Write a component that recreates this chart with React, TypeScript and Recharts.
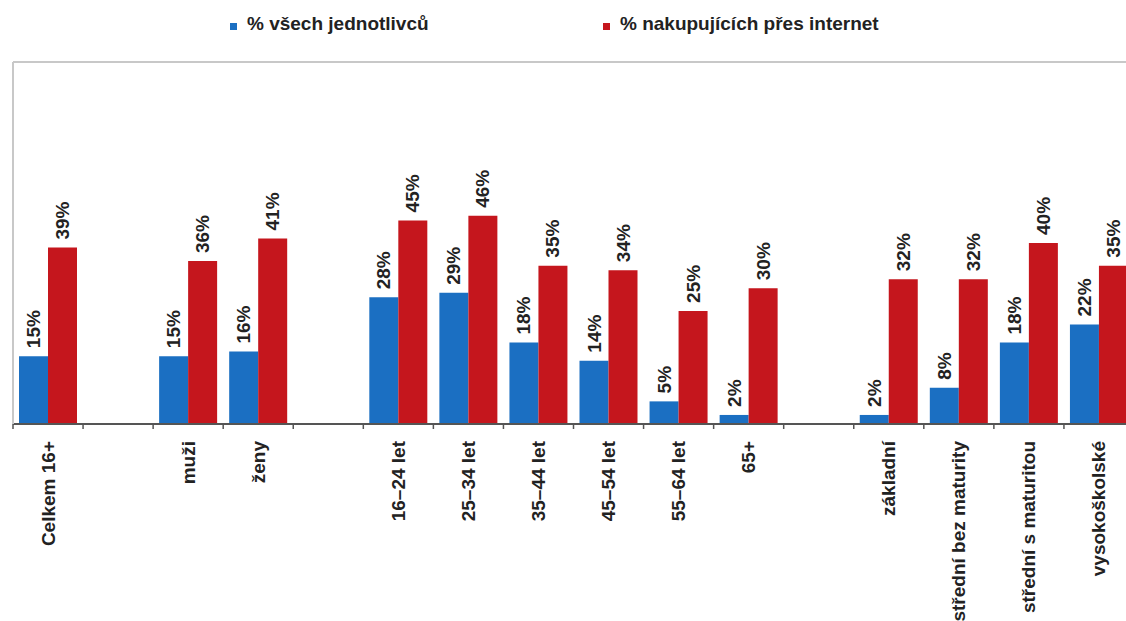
import { BarChart, Bar, XAxis, YAxis, Legend, LabelList, ReferenceLine } from 'recharts';

const categories = [
  'Celkem 16+', '', 'muži', 'ženy', '',
  '16–24 let', '25–34 let', '35–44 let', '45–54 let', '55–64 let', '65+', '',
  'základní', 'střední bez maturity', 'střední s maturitou', 'vysokoškolské',
];
const allIndividuals = [15, null, 15, 16, null, 28, 29, 18, 14, 5, 2, null, 2, 8, 18, 22];
const onlineShoppers = [39, null, 36, 41, null, 45, 46, 35, 34, 25, 30, null, 32, 32, 40, 35];
const seriesNames = ['% všech jednotlivců', '% nakupujících přes internet'];

const FONT = '"Liberation Sans", Arial, sans-serif';
const BLUE = '#1b6fc2';
const RED = '#c5161d';

const data = categories.map((name, i) => ({
  name,
  all: allIndividuals[i],
  shoppers: onlineShoppers[i],
}));

function CategoryTick(props: any) {
  const { x, y, payload } = props;
  const edge = x - (payload.offset ?? 0);
  return (
    <g>
      <line x1={edge} y1={y} x2={edge} y2={y + 5} stroke="#555" strokeWidth={1.5} />
      {payload.value ? (
        <text
          transform={`translate(${x},${y + 17}) rotate(-90)`}
          textAnchor="end"
          dominantBaseline="central"
          fontFamily={FONT}
          fontWeight="bold"
          fontSize={19}
          fill="#222"
        >
          {payload.value}
        </text>
      ) : null}
    </g>
  );
}

function ValueLabel(props: any) {
  const { value } = props;
  if (value == null) return null;
  const x = props.x ?? props.viewBox?.x;
  const y = props.y ?? props.viewBox?.y;
  const width = props.width ?? props.viewBox?.width;
  return (
    <text
      transform={`translate(${x + width / 2},${y - 8}) rotate(-90)`}
      textAnchor="start"
      dominantBaseline="central"
      fontFamily={FONT}
      fontWeight="bold"
      fontSize={19}
      fill="#222"
    >
      {value}%
    </text>
  );
}

function LegendContent(props: any) {
  const lefts = [230, 603];
  const items = [...(props.payload || [])].sort(
    (a: any, b: any) => seriesNames.indexOf(a.value) - seriesNames.indexOf(b.value)
  );
  return (
    <div style={{ position: 'relative', height: 20, fontFamily: FONT, fontWeight: 'bold', fontSize: 19, lineHeight: '20px', color: '#222' }}>
      {items.map((entry: any, i: number) => (
        <div key={entry.value} style={{ position: 'absolute', left: lefts[i], top: 0, display: 'flex', alignItems: 'flex-start', whiteSpace: 'nowrap' }}>
          <span style={{ display: 'inline-block', width: 7, height: 7, marginTop: 9, marginRight: 10, background: entry.color }} />
          <span>{entry.value}</span>
        </div>
      ))}
    </div>
  );
}

export default function App() {
  return (
    <div style={{ position: 'fixed', top: 0, left: 0, width: 1126, height: 621, overflow: 'hidden', background: '#fff' }}>
      <BarChart
        width={1140}
        height={621}
        data={data}
        margin={{ top: 62, right: 6, left: 12, bottom: 0 }}
        barGap={0}
        barCategoryGap={6}
      >
        <XAxis
          dataKey="name"
          xAxisId="cat"
          height={197}
          interval={0}
          tickSize={0}
          tickMargin={0}
          tickLine={false}
          axisLine={{ stroke: '#555', strokeWidth: 2 }}
          tick={<CategoryTick />}
        />
        <YAxis
          domain={[0, 80]}
          width={1}
          tick={false}
          tickLine={false}
          axisLine={{ stroke: '#c8c8c8', strokeWidth: 2 }}
        />
        <ReferenceLine y={80} xAxisId="cat" stroke="#c8c8c8" strokeWidth={2} />
        <Legend
          verticalAlign="middle"
          align="center"
          layout="horizontal"
          wrapperStyle={{ top: 14, left: 0, width: 1126 }}
          content={<LegendContent />}
        />
        <Bar dataKey="all" name={seriesNames[0]} xAxisId="cat" fill={BLUE} isAnimationActive={false}>
          <LabelList dataKey="all" content={<ValueLabel />} />
        </Bar>
        <Bar dataKey="shoppers" name={seriesNames[1]} xAxisId="cat" fill={RED} isAnimationActive={false}>
          <LabelList dataKey="shoppers" content={<ValueLabel />} />
        </Bar>
      </BarChart>
    </div>
  );
}
